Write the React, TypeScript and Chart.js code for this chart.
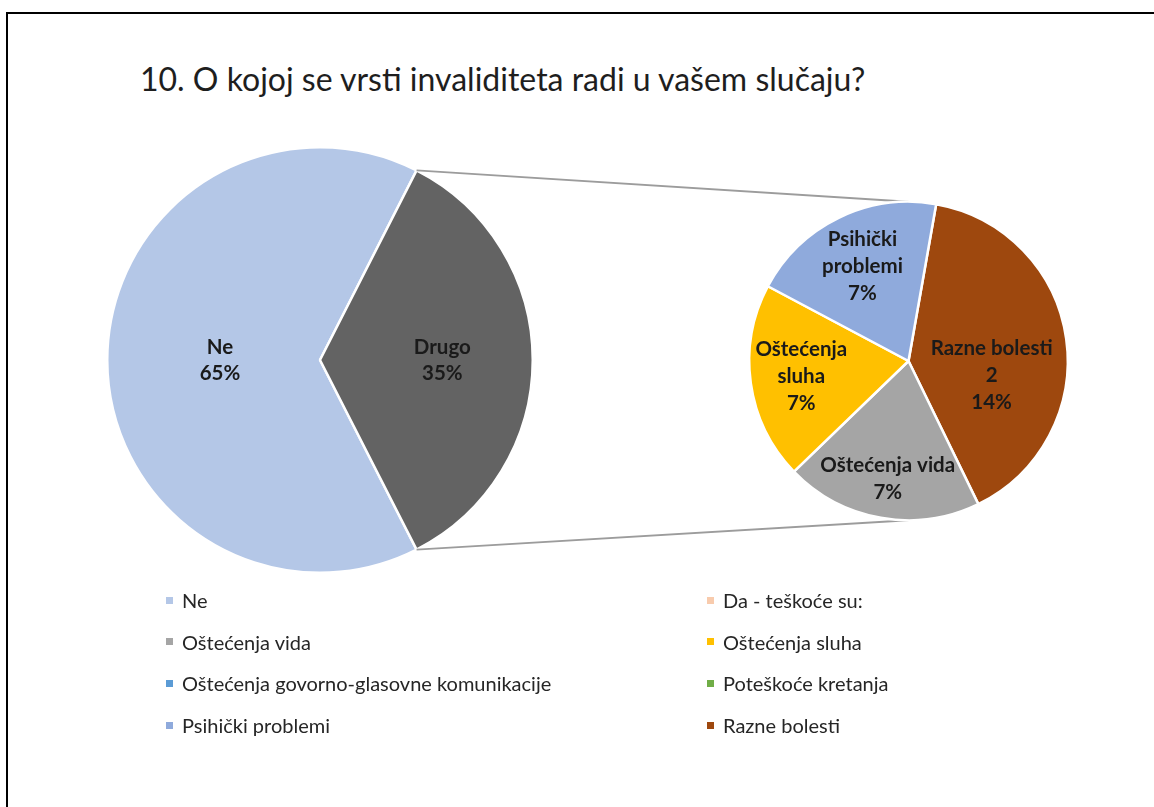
import React, { useEffect, useRef } from "react";
import { Chart, registerables } from "chart.js";

Chart.register(...registerables);

const TITLE = "10. O kojoj se vrsti invaliditeta radi u vašem slučaju?";

const mainCategories = ["Ne", "Drugo"];
const mainValues = [65, 35];
const mainColors = ["#B4C7E7", "#636363"];

const subCategories = ["Razne bolesti 2", "Oštećenja vida", "Oštećenja sluha", "Psihički problemi"];
const subLabelLines = [["Razne bolesti", "2"], ["Oštećenja vida"], ["Oštećenja", "sluha"], ["Psihički", "problemi"]];
const subValues = [14, 7, 7, 7];
const subColors = ["#9E480E", "#A5A5A5", "#FFC000", "#8FAADC"];

const legendLabels = [
  "Ne",
  "Da - teškoće su:",
  "Oštećenja vida",
  "Oštećenja sluha",
  "Oštećenja govorno-glasovne komunikacije",
  "Poteškoće kretanja",
  "Psihički problemi",
  "Razne bolesti",
];
const legendColors = ["#B4C7E7", "#F8CBAD", "#A5A5A5", "#FFC000", "#5B9BD5", "#70AD47", "#8FAADC", "#9E480E"];

const FONT = "Lato, 'Open Sans', sans-serif";
const W = 1154;
const H = 807;

const sliceLabelPlugin = {
  id: "sliceLabels",
  afterDatasetsDraw(chart: any, _args: any, opts: any) {
    const ctx = chart.ctx;
    const meta = chart.getDatasetMeta(0);
    const ds = chart.data.datasets[0];
    const lines: string[][] = opts.lines || [];
    const radii: number[] = opts.radii || [];
    const shifts: number[] = opts.shifts || [];
    ctx.save();
    ctx.font = `bold ${opts.fontSize || 19}px ${FONT}`;
    ctx.fillStyle = "#1a1a1a";
    ctx.textAlign = "center";
    ctx.textBaseline = "middle";
    const lh = opts.lineHeight || 26;
    meta.data.forEach((arc: any, i: number) => {
      const p = arc.getProps(["x", "y", "startAngle", "endAngle", "outerRadius"], true);
      const mid = (p.startAngle + p.endAngle) / 2 + ((shifts[i] || 0) * Math.PI) / 180;
      const r = p.outerRadius * (radii[i] ?? 0.5);
      const cx = p.x + Math.cos(mid) * r;
      const cy = p.y + Math.sin(mid) * r;
      const txt = [...(lines[i] || [chart.data.labels[i]]), `${ds.data[i]}%`];
      const y0 = cy - ((txt.length - 1) * lh) / 2;
      txt.forEach((t, k) => ctx.fillText(t, cx, y0 + k * lh));
    });
    ctx.restore();
  },
};

const connectorPlugin = {
  id: "connectors",
  beforeDatasetsDraw(chart: any, _args: any, opts: any) {
    const main = opts.getMain && opts.getMain();
    if (!main) return;
    const mArc = main.getDatasetMeta(0).data[1];
    const sArc = chart.getDatasetMeta(0).data[0];
    if (!mArc || !sArc) return;
    const m = mArc.getProps(["x", "y", "startAngle", "endAngle", "outerRadius"], true);
    const s = sArc.getProps(["x", "y", "outerRadius"], true);
    const ctx = chart.ctx;
    ctx.save();
    ctx.strokeStyle = "#9C9C9C";
    ctx.lineWidth = 1.8;
    ctx.beginPath();
    ctx.moveTo(m.x + Math.cos(m.startAngle) * m.outerRadius, m.y + Math.sin(m.startAngle) * m.outerRadius);
    ctx.lineTo(s.x, s.y - s.outerRadius);
    ctx.moveTo(m.x + Math.cos(m.endAngle) * m.outerRadius, m.y + Math.sin(m.endAngle) * m.outerRadius);
    ctx.lineTo(s.x, s.y + s.outerRadius);
    ctx.stroke();
    ctx.restore();
  },
};

export default function App() {
  const mainRef = useRef<HTMLCanvasElement>(null);
  const subRef = useRef<HTMLCanvasElement>(null);

  useEffect(() => {
    document.body.style.margin = "0";
    let mainChart: any = null;
    mainChart = new Chart(mainRef.current!, {
      type: "pie",
      data: {
        labels: mainCategories,
        datasets: [{ data: mainValues, backgroundColor: mainColors, borderColor: "#ffffff", borderWidth: 2.5 }],
      },
      options: {
        animation: false,
        responsive: false,
        rotation: 153,
        layout: { padding: { left: 106, right: W - 534, top: 146, bottom: H - 574 } },
        plugins: {
          legend: { display: false },
          tooltip: { enabled: false },
          sliceLabels: { radii: [0.47, 0.575], shifts: [0, 0], fontSize: 20.5, lineHeight: 26 },
        } as any,
      },
      plugins: [sliceLabelPlugin],
    });
    const subChart = new Chart(subRef.current!, {
      type: "pie",
      data: {
        labels: subCategories,
        datasets: [{ data: subValues, backgroundColor: subColors, borderColor: "#ffffff", borderWidth: 2.5 }],
      },
      options: {
        animation: false,
        responsive: false,
        rotation: 10,
        layout: { padding: { left: 748, right: W - 1069, top: 200, bottom: H - 522 } },
        plugins: {
          legend: { display: false },
          tooltip: { enabled: false },
          sliceLabels: { lines: subLabelLines, radii: [0.53, 0.75, 0.68, 0.66], shifts: [18, 0, 0, 0], fontSize: 20.5, lineHeight: 27 },
          connectors: { getMain: () => mainChart },
        } as any,
      },
      plugins: [sliceLabelPlugin, connectorPlugin],
    });
    return () => {
      subChart.destroy();
      mainChart.destroy();
    };
  }, []);

  const legendCols = [166, 707];
  const legendRows = [600, 641.7, 683.4, 725];

  return (
    <div style={{ position: "absolute", left: 0, top: 0, width: W, height: H, background: "#fff", overflow: "hidden", fontFamily: FONT }}>
      <div
        style={{
          position: "absolute",
          left: 6,
          top: 12,
          width: W,
          height: H,
          borderLeft: "2.5px solid #000",
          borderTop: "2.5px solid #000",
        }}
      />
      <div
        style={{
          position: "absolute",
          left: 140,
          top: 58,
          fontSize: 32,
          lineHeight: "42px",
          color: "#1e1e1e",
          whiteSpace: "nowrap",
        }}
      >
        {TITLE}
      </div>
      <canvas ref={mainRef} width={W} height={H} style={{ position: "absolute", left: 0, top: 0 }} />
      <canvas ref={subRef} width={W} height={H} style={{ position: "absolute", left: 0, top: 0 }} />
      {legendLabels.map((lab, i) => (
        <div
          key={lab}
          style={{
            position: "absolute",
            left: legendCols[i % 2],
            top: legendRows[Math.floor(i / 2)] - 13,
            height: 26,
            display: "flex",
            alignItems: "center",
            fontSize: 20,
            color: "#262626",
            whiteSpace: "nowrap",
          }}
        >
          <span style={{ display: "inline-block", width: 7, height: 7, background: legendColors[i], marginRight: 9 }} />
          <span>{lab}</span>
        </div>
      ))}
    </div>
  );
}
